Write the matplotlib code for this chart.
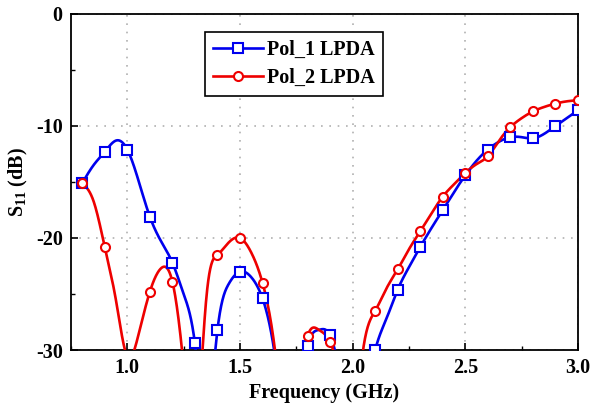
import numpy as np
import matplotlib
matplotlib.use("Agg")
import matplotlib.pyplot as plt
from matplotlib.lines import Line2D

# ---- data ----
freq = [0.80, 0.85, 0.90, 0.95, 1.00, 1.05, 1.10, 1.15, 1.20, 1.25,
        1.30, 1.35, 1.40, 1.45, 1.50, 1.55, 1.60, 1.65, 1.70, 1.75,
        1.80, 1.85, 1.90, 1.95, 2.00, 2.05, 2.10, 2.15, 2.20, 2.25,
        2.30, 2.35, 2.40, 2.45, 2.50, 2.55, 2.60, 2.65, 2.70, 2.75,
        2.80, 2.85, 2.90, 2.95, 3.00]
pol1 = [-15.1, -13.5, -12.3, -11.3, -12.1, -14.9, -18.1, -20.3, -22.2, -25.0,
        -29.4, -36.0, -28.2, -24.1, -23.0, -23.5, -25.4, -29.8, -36.0, -35.0,
        -29.6, -28.2, -28.7, -33.0, -38.0, -35.0, -30.0, -27.2, -24.6, -22.6,
        -20.8, -19.1, -17.5, -15.9, -14.4, -13.1, -12.1, -11.4, -11.0, -11.0,
        -11.1, -10.7, -10.0, -9.3, -8.6]
pol2 = [-15.1, -16.7, -20.8, -25.6, -30.6, -28.6, -24.8, -22.7, -23.9, -31.5,
        -38.0, -25.5, -21.5, -20.4, -20.0, -21.3, -24.0, -29.2, -36.0, -34.0,
        -28.75, -28.2, -29.3, -33.0, -36.0, -29.5, -26.5, -24.5, -22.8, -21.0,
        -19.4, -17.8, -16.3, -15.2, -14.2, -13.4, -12.7, -11.3, -10.1, -9.3,
        -8.7, -8.3, -8.0, -7.8, -7.7]
labels = ["Pol_1 LPDA", "Pol_2 LPDA"]
xticks = [1.0, 1.5, 2.0, 2.5, 3.0]
yticks = [-30, -20, -10, 0]


def natural_spline(x, y, xs):
    x = np.asarray(x, float); y = np.asarray(y, float)
    n = len(x)
    h = np.diff(x)
    A = np.zeros((n, n)); b = np.zeros(n)
    A[0, 0] = 1; A[-1, -1] = 1
    for i in range(1, n - 1):
        A[i, i - 1] = h[i - 1]
        A[i, i] = 2 * (h[i - 1] + h[i])
        A[i, i + 1] = h[i]
        b[i] = 3 * ((y[i + 1] - y[i]) / h[i] - (y[i] - y[i - 1]) / h[i - 1])
    c = np.linalg.solve(A, b)
    idx = np.clip(np.searchsorted(x, xs) - 1, 0, n - 2)
    dx = xs - x[idx]
    hi = h[idx]
    bb = (y[idx + 1] - y[idx]) / hi - hi * (2 * c[idx] + c[idx + 1]) / 3
    d = (c[idx + 1] - c[idx]) / (3 * hi)
    return y[idx] + bb * dx + c[idx] * dx ** 2 + d * dx ** 3


plt.rcParams['font.family'] = ['Liberation Serif', 'DejaVu Serif']
plt.rcParams['font.weight'] = 'bold'
plt.rcParams['axes.unicode_minus'] = False
plt.rcParams['mathtext.fontset'] = 'custom'
plt.rcParams['mathtext.rm'] = 'Liberation Serif:bold'
plt.rcParams['mathtext.bf'] = 'Liberation Serif:bold'
plt.rcParams['mathtext.it'] = 'Liberation Serif:bold'

fig = plt.figure(figsize=(5.93, 4.11), dpi=100)
ax = fig.add_axes([0.1197, 0.1484, 0.855, 0.8176])

colors = ['#0000ee', '#ee0000']
markers = ['s', 'o']
xs = np.linspace(freq[0], freq[-1], 1500)
handles = []
for vals, col, mk, lab in zip([pol1, pol2], colors, markers, labels):
    ys = natural_spline(freq, vals, xs)
    ax.plot(xs, ys, color=col, lw=1.9, zorder=3)
    ax.plot(freq[::2], vals[::2], ls='none', marker=mk, ms=6.5, mfc='white',
            mec=col, mew=1.5, zorder=4)
    handles.append(Line2D([], [], color=col, lw=1.9, marker=mk, ms=6.5,
                          mfc='white', mec=col, mew=1.5, label=lab))

ax.set_xlim(0.8, 3.0)
ax.set_ylim(-30, 0)
ax.set_xticks(xticks)
ax.set_xticklabels([f"{t:.1f}" for t in xticks])
ax.set_yticks(yticks)
ax.set_xticks(np.arange(0.75, 3.01, 0.25), minor=True)
ax.set_yticks([-25, -15, -5], minor=True)
ax.tick_params(which='both', direction='in', top=False, right=False)
ax.tick_params(which='major', length=5, width=1.2, labelsize=14.5, pad=6)
ax.tick_params(which='minor', length=3, width=1.0)
for lab in ax.get_xticklabels() + ax.get_yticklabels():
    lab.set_fontweight('bold')
ax.grid(True, which='major', color='#b0b0b0', ls=(0, (1, 4)), lw=1.2)
for sp in ax.spines.values():
    sp.set_linewidth(1.3)

ax.set_xlabel('Frequency (GHz)', fontsize=14.5, fontweight='bold', labelpad=3)
ax.set_ylabel(r'S$_{11}$ (dB)', fontsize=14.5, fontweight='bold', labelpad=4)

leg = ax.legend(handles=handles, loc='upper left', bbox_to_anchor=(0.264, 0.946),
                borderaxespad=0, fancybox=False, framealpha=1, edgecolor='black',
                prop={'weight': 'bold', 'size': 14.5}, handlelength=2.5,
                handletextpad=0.2, borderpad=0.4, labelspacing=0.4)
leg.get_frame().set_linewidth(1.2)

fig.savefig('out.png', dpi=100)
